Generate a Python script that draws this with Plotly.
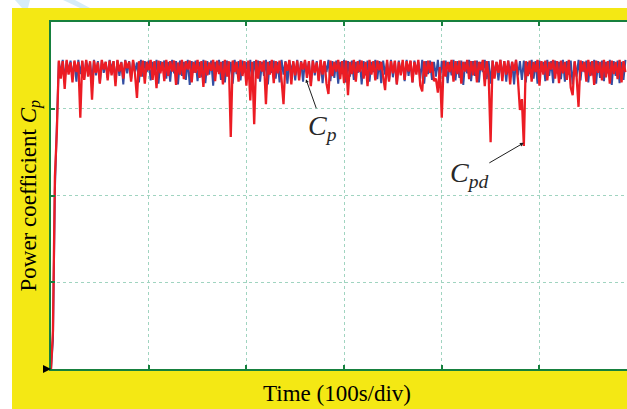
import numpy as np
import plotly.graph_objects as go

# time axis (s), one sample every 2 s
time_s = np.arange(0, 590, 2)

# measured Cp (blue) and demanded Cpd (red)
cp_blue = [
    0.000, 0.045, 0.280, 0.400, 0.478, 0.460, 0.481, 0.450, 0.479, 0.463,
    0.480, 0.455, 0.478, 0.447, 0.481, 0.459, 0.479, 0.452, 0.480, 0.464,
    0.477, 0.449, 0.481, 0.457, 0.479, 0.445, 0.480, 0.461, 0.478, 0.453,
    0.481, 0.466, 0.479, 0.448, 0.480, 0.456, 0.478, 0.443, 0.481, 0.460,
    0.479, 0.451, 0.480, 0.463, 0.477, 0.446, 0.481, 0.455, 0.479, 0.462,
    0.480, 0.449, 0.478, 0.458, 0.481, 0.444, 0.479, 0.465, 0.480, 0.452,
    0.478, 0.447, 0.481, 0.460, 0.479, 0.443, 0.480, 0.456, 0.478, 0.450,
    0.481, 0.442, 0.479, 0.461, 0.480, 0.448, 0.478, 0.454, 0.481, 0.445,
    0.479, 0.458, 0.480, 0.441, 0.478, 0.463, 0.481, 0.450, 0.479, 0.446,
    0.480, 0.455, 0.478, 0.444, 0.481, 0.459, 0.479, 0.449, 0.480, 0.462,
    0.478, 0.451, 0.481, 0.445, 0.479, 0.460, 0.480, 0.447, 0.478, 0.456,
    0.481, 0.443, 0.479, 0.461, 0.480, 0.452, 0.478, 0.446, 0.481, 0.458,
    0.479, 0.444, 0.480, 0.463, 0.478, 0.449, 0.481, 0.455, 0.479, 0.447,
    0.480, 0.460, 0.478, 0.442, 0.481, 0.457, 0.479, 0.450, 0.480, 0.445,
    0.478, 0.462, 0.481, 0.448, 0.479, 0.453, 0.480, 0.444, 0.478, 0.459,
    0.481, 0.446, 0.479, 0.455, 0.480, 0.450, 0.478, 0.461, 0.481, 0.443,
    0.479, 0.457, 0.480, 0.447, 0.478, 0.462, 0.481, 0.451, 0.479, 0.445,
    0.480, 0.458, 0.478, 0.449, 0.481, 0.454, 0.479, 0.443, 0.480, 0.460,
    0.478, 0.448, 0.481, 0.456, 0.479, 0.446, 0.480, 0.463, 0.478, 0.452,
    0.481, 0.444, 0.479, 0.459, 0.480, 0.450, 0.478, 0.455, 0.481, 0.447,
    0.479, 0.461, 0.480, 0.445, 0.478, 0.457, 0.481, 0.449, 0.479, 0.453,
    0.480, 0.442, 0.478, 0.460, 0.481, 0.448, 0.479, 0.456, 0.480, 0.446,
    0.478, 0.462, 0.481, 0.451, 0.479, 0.444, 0.480, 0.458, 0.478, 0.449,
    0.481, 0.455, 0.479, 0.447, 0.480, 0.461, 0.478, 0.443, 0.481, 0.457,
    0.479, 0.450, 0.480, 0.446, 0.478, 0.459, 0.481, 0.452, 0.479, 0.444,
    0.480, 0.463, 0.478, 0.448, 0.481, 0.456, 0.479, 0.445, 0.480, 0.460,
    0.478, 0.451, 0.481, 0.447, 0.479, 0.458, 0.480, 0.443, 0.478, 0.455,
    0.481, 0.449, 0.479, 0.462, 0.480, 0.446, 0.478, 0.457, 0.481, 0.444,
    0.479, 0.453, 0.480, 0.448, 0.478, 0.460, 0.481, 0.442, 0.479, 0.456,
    0.480, 0.445, 0.478, 0.450, 0.481,
]

cpd_red = [
    0.000, 0.060, 0.300, 0.370, 0.480, 0.452, 0.479, 0.436, 0.481, 0.458,
    0.477, 0.446, 0.480, 0.462, 0.478, 0.391, 0.480, 0.450, 0.481, 0.455,
    0.479, 0.419, 0.480, 0.461, 0.477, 0.444, 0.481, 0.466, 0.478, 0.449,
    0.480, 0.457, 0.479, 0.440, 0.481, 0.463, 0.477, 0.452, 0.480, 0.468,
    0.478, 0.447, 0.481, 0.459, 0.422, 0.479, 0.455, 0.480, 0.444, 0.478,
    0.465, 0.481, 0.450, 0.479, 0.437, 0.480, 0.460, 0.478, 0.448, 0.481,
    0.456, 0.479, 0.463, 0.480, 0.442, 0.477, 0.458, 0.481, 0.451, 0.479,
    0.466, 0.480, 0.446, 0.478, 0.461, 0.481, 0.453, 0.479, 0.439, 0.480,
    0.457, 0.477, 0.464, 0.481, 0.448, 0.480, 0.459, 0.478, 0.443, 0.481,
    0.455, 0.479, 0.361, 0.480, 0.462, 0.478, 0.447, 0.481, 0.456, 0.479,
    0.441, 0.480, 0.418, 0.478, 0.381, 0.481, 0.452, 0.479, 0.463, 0.480,
    0.412, 0.478, 0.458, 0.481, 0.445, 0.479, 0.460, 0.480, 0.450, 0.412,
    0.478, 0.464, 0.481, 0.443, 0.479, 0.457, 0.480, 0.449, 0.478, 0.466,
    0.481, 0.453, 0.479, 0.440, 0.480, 0.461, 0.477, 0.448, 0.481, 0.458,
    0.479, 0.444, 0.428, 0.480, 0.456, 0.478, 0.463, 0.481, 0.451, 0.479,
    0.445, 0.480, 0.426, 0.478, 0.459, 0.481, 0.447, 0.479, 0.462, 0.480,
    0.452, 0.478, 0.440, 0.481, 0.458, 0.479, 0.449, 0.480, 0.465, 0.478,
    0.455, 0.434, 0.481, 0.447, 0.479, 0.460, 0.480, 0.443, 0.478, 0.457,
    0.481, 0.450, 0.479, 0.463, 0.480, 0.446, 0.478, 0.458, 0.481, 0.441,
    0.432, 0.479, 0.455, 0.480, 0.461, 0.478, 0.448, 0.452, 0.430, 0.470,
    0.391, 0.480, 0.455, 0.478, 0.462, 0.481, 0.447, 0.479, 0.459, 0.480,
    0.444, 0.478, 0.463, 0.481, 0.451, 0.479, 0.457, 0.480, 0.446, 0.478,
    0.465, 0.481, 0.440, 0.479, 0.456, 0.353, 0.480, 0.452, 0.478, 0.461,
    0.481, 0.448, 0.479, 0.458, 0.480, 0.443, 0.478, 0.464, 0.481, 0.450,
    0.403, 0.420, 0.347, 0.479, 0.456, 0.480, 0.447, 0.478, 0.462, 0.481,
    0.441, 0.479, 0.458, 0.480, 0.449, 0.478, 0.466, 0.481, 0.452, 0.479,
    0.445, 0.480, 0.460, 0.478, 0.450, 0.481, 0.438, 0.426, 0.479, 0.455,
    0.408, 0.480, 0.463, 0.478, 0.447, 0.481, 0.456, 0.479, 0.442, 0.480,
    0.461, 0.478, 0.449, 0.481, 0.454, 0.479, 0.444, 0.480, 0.459, 0.478,
    0.451, 0.481, 0.446, 0.479, 0.462,
]

X_RANGE = [0, 589.6]
Y_RANGE = [0, 0.54]
X_DTICK = 100
Y_DTICK = 0.135

YELLOW = "rgb(244,232,20)"
GREEN = "rgb(22,128,62)"
GRID = "rgb(160,212,192)"
SERIF = "Liberation Serif, Times New Roman, serif"

fig = go.Figure()
fig.add_trace(go.Scatter(x=time_s, y=cp_blue, mode="lines",
                         line=dict(color="rgb(52,78,162)", width=2),
                         name="Cp", showlegend=False))
fig.add_trace(go.Scatter(x=time_s, y=cpd_red, mode="lines",
                         line=dict(color="rgb(236,28,36)", width=2.3),
                         name="Cpd", showlegend=False))

axis_common = dict(showgrid=True, gridcolor=GRID, griddash="dot", gridwidth=1,
                   zeroline=False, showticklabels=False, ticks="inside",
                   tickcolor=GREEN, ticklen=4, tickwidth=1.5)

fig.update_xaxes(range=X_RANGE, dtick=X_DTICK, tick0=0, showline=True,
                 linecolor=GREEN, linewidth=2, mirror="allticks", **axis_common)
fig.update_yaxes(range=Y_RANGE, dtick=Y_DTICK, tick0=0, showline=True,
                 linecolor=GREEN, linewidth=1.5, mirror=False, **axis_common)

W, H = 627, 409
L, T, B = 51, 22, 40
PW, PH = W - L, H - T - B


def px(xp):
    return (xp - L) / PW


def py(yp):
    return (H - B - yp) / PH


shapes = [
    # white strips around the yellow frame
    dict(type="rect", xref="paper", yref="paper", x0=px(-5), x1=px(12),
         y0=py(420), y1=py(-5), fillcolor="white", line_width=0, layer="above"),
    dict(type="rect", xref="paper", yref="paper", x0=px(-5), x1=px(640),
         y0=py(8), y1=py(-5), fillcolor="white", line_width=0, layer="above"),
    # faint watermark strokes
    dict(type="path", xref="paper", yref="paper",
         path=f"M {px(15)},{py(0)} L {px(30)},{py(0)} L {px(28)},{py(8)} L {px(22)},{py(8)} Z",
         fillcolor="rgb(214,236,248)", line_width=0, layer="above"),
    dict(type="path", xref="paper", yref="paper",
         path=f"M {px(63)},{py(0)} L {px(75)},{py(0)} L {px(90)},{py(8)} L {px(80)},{py(8)} Z",
         fillcolor="rgb(214,236,248)", line_width=0, layer="above"),
    # ground marker
    dict(type="path", xref="paper", yref="paper",
         path=f"M {px(43)},{py(365)} L {px(43)},{py(373)} L {px(51)},{py(369)} Z",
         fillcolor="black", line_width=0, layer="above"),
]

annotations = [
    dict(text="Power coefficient <i>C</i><sub><i>p</i></sub>", xref="paper", yref="paper",
         x=px(30), y=0.5, textangle=-90, showarrow=False, xanchor="center", yanchor="middle",
         font=dict(family=SERIF, size=23, color="black")),
    dict(text="Time (100s/div)", xref="paper", yref="paper",
         x=px(337), y=py(393), showarrow=False, xanchor="center", yanchor="middle",
         font=dict(family=SERIF, size=23, color="black")),
    dict(text="<i>C</i><sub><i>p</i></sub>", x=261, y=0.451, xref="x", yref="y",
         ax=17, ay=48, showarrow=True, arrowhead=2, arrowsize=0.7, arrowwidth=1,
         arrowcolor="rgb(30,30,30)",
         font=dict(family=SERIF, size=28, color="rgb(40,40,40)")),
    dict(text="<i>C</i><sub><i>pd</i></sub>", x=484, y=0.352, xref="x", yref="y",
         ax=-55, ay=32, showarrow=True, arrowhead=2, arrowsize=0.8, arrowwidth=1,
         arrowcolor="rgb(30,30,30)",
         font=dict(family=SERIF, size=28, color="rgb(40,40,40)")),
]

fig.update_layout(width=W, height=H, margin=dict(l=L, r=0, t=T, b=B, pad=0),
                  paper_bgcolor=YELLOW, plot_bgcolor="white",
                  shapes=shapes, annotations=annotations, showlegend=False)

fig.write_html("out.html")
